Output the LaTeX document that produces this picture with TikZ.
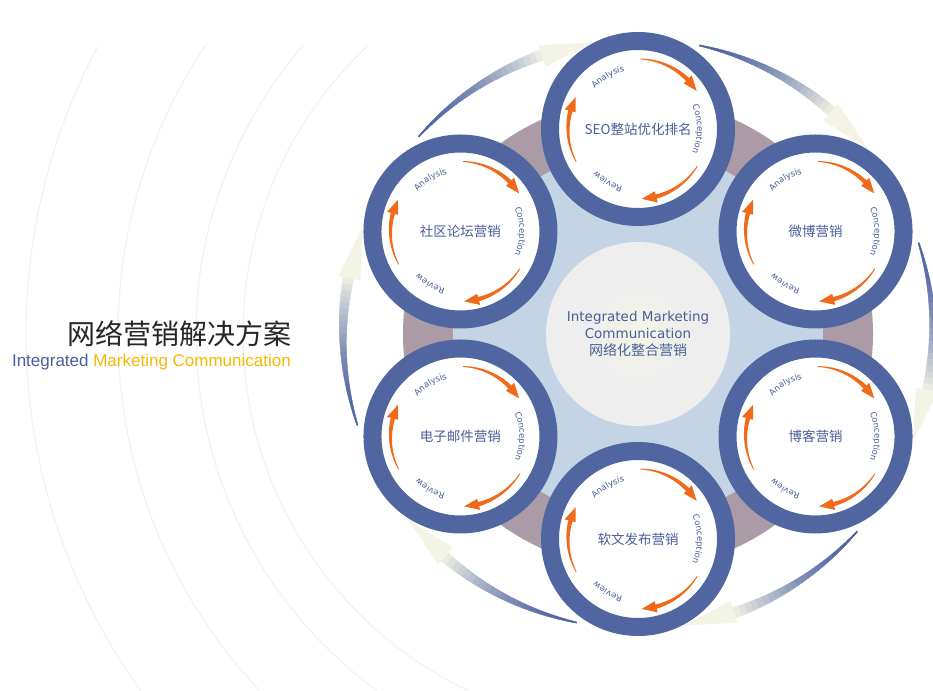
\documentclass[tikz,border=0pt]{standalone}
\usepackage{fontspec}
\setmainfont{Liberation Sans}
\newfontfamily\cjk{Noto Sans CJK SC}
\newfontfamily\dejavu{DejaVu Sans}
\usetikzlibrary{calc,decorations.text}
\definecolor{ringblue}{HTML}{5066A0}
\definecolor{textblue}{HTML}{4A5E98}
\definecolor{mauve}{HTML}{AA9BA7}
\definecolor{paleblue}{HTML}{C5D4E5}
\definecolor{hubgray}{HTML}{EEEEEE}
\definecolor{arrorange}{HTML}{F06A1A}
\definecolor{outblue}{HTML}{4C62A0}
\definecolor{outpale}{HTML}{F4F4E6}
\definecolor{gold}{HTML}{F5B800}
\newcommand\arclbl{\dejavu\fontsize{8.5}{9}\selectfont}

\begin{document}
\begin{tikzpicture}
[x=1pt,y=1pt,
unit/.style={circle,draw=ringblue,line width=18pt,fill=white,minimum size=176pt,inner sep=0pt,text=textblue,font=\cjk\fontsize{13.5}{16}\selectfont},
slice/.style={fill=#1,draw=#1,line width=.4pt},
bgarc/.style={draw=black!5,line width=1.2pt},
]

\useasboundingbox (0,0) rectangle (933,690);
\clip (0,0) rectangle (933,690);

%Hub centre and radii
\def\R{205}
\def\Ro{295}
\coordinate (C) at (638,356);

%Faint background arcs
\foreach \r/\a in {612/152,520/146,442/139,395/133}
  \draw[bgarc] ($(C)+(\a:\r)$) arc[start angle=\a,end angle=260,radius=\r];

%Outer fading arrows
\foreach \k in {0,...,5}{
  \pgfmathsetmacro{\T}{138-60*\k}
  \foreach \i in {0,...,23}{
    \pgfmathsetmacro{\aA}{\T-29*\i/24}
    \pgfmathsetmacro{\aB}{\T-29*(\i+1)/24}
    \pgfmathsetmacro{\wA}{0.6+4.8*\i/24}
    \pgfmathsetmacro{\wB}{0.6+4.8*(\i+1)/24}
    \pgfmathtruncatemacro{\p}{100*(1-(\i/24)^1.6)}
    \path[slice=outblue!\p!outpale] ($(C)+(\aA:{\Ro-\wA})$) -- ($(C)+(\aA:{\Ro+\wA})$)
      -- ($(C)+(\aB:{\Ro+\wB})$) -- ($(C)+(\aB:{\Ro-\wB})$) -- cycle;
  }
  \pgfmathsetmacro{\aH}{\T-29}
  \pgfmathsetmacro{\aE}{\T-39}
  \path[slice=outpale] ($(C)+(\aH:{\Ro+10})$) -- ($(C)+(\aE:\Ro)$) -- ($(C)+(\aH:{\Ro-12})$) -- cycle;
}

%Rings
\fill[mauve] (C) circle[radius=235];
\fill[paleblue] (C) circle[radius=185];
\fill[hubgray] (C) circle[radius=92];
\shade[inner color=outpale,outer color=hubgray] (C) circle[radius=50];

%Hub label
\node[text=textblue,align=center,font=\dejavu\fontsize{13.5}{17}\selectfont] (hub) at (C)
  {Integrated Marketing\\Communication\\{\cjk\fontsize{14}{19}\selectfont 网络化整合营销}};

%Six channels
\node[unit] (seo) at ($(C)+(90:\R)$) {SEO整站优化排名};
\node[unit] (weibo) at ($(C)+(30:\R)$) {微博营销};
\node[unit] (blog) at ($(C)+(-30:\R)$) {博客营销};
\node[unit] (article) at ($(C)+(-90:\R)$) {软文发布营销};
\node[unit] (email) at ($(C)+(-150:\R)$) {电子邮件营销};
\node[unit] (forum) at ($(C)+(150:\R)$) {社区论坛营销};

%Inner cycle: orange arrows and stage labels
\foreach \n in {seo,weibo,blog,article,email,forum}{
  \begin{scope}[shift={(\n.center)}]
  \foreach \j in {0,1,2}{
    \pgfmathsetmacro{\ta}{88-120*\j}
    \fill[arrorange] plot[domain=0:1,samples=16] ({\ta-44*\x}:{70+0.4+1.8*\x})
      -- plot[domain=0:1,samples=16] ({\ta-44*(1-\x)}:{70-0.4-1.8*(1-\x)}) -- cycle;
    \fill[arrorange] ({\ta-43}:76) -- ({\ta-55}:70) -- ({\ta-43}:64.5) -- cycle;
  }
  \path[decorate,decoration={text along path,text color=textblue,text align=center,
    text={|\arclbl|Analysis}}] (180:59) arc[start angle=180,end angle=60,radius=59];
  \path[decorate,decoration={text along path,text color=textblue,text align=center,
    text={|\arclbl|Conception}}] (60:59) arc[start angle=60,end angle=-60,radius=59];
  \path[decorate,decoration={text along path,text color=textblue,text align=center,
    text={|\arclbl|Review}}] (-60:59) arc[start angle=-60,end angle=-180,radius=59];
  \end{scope}
}

%Title
\node[anchor=base east,text=black!85,font=\cjk\fontsize{28}{30}\selectfont,inner sep=0pt] (title) at (292,345) {网络营销解决方案};
\node[anchor=base east,font=\fontsize{17}{19}\selectfont,inner sep=0pt] (subtitle) at (291,323)
  {\textcolor{textblue}{Integrated} \textcolor{gold}{Marketing Communication}};

\end{tikzpicture}
\end{document}
